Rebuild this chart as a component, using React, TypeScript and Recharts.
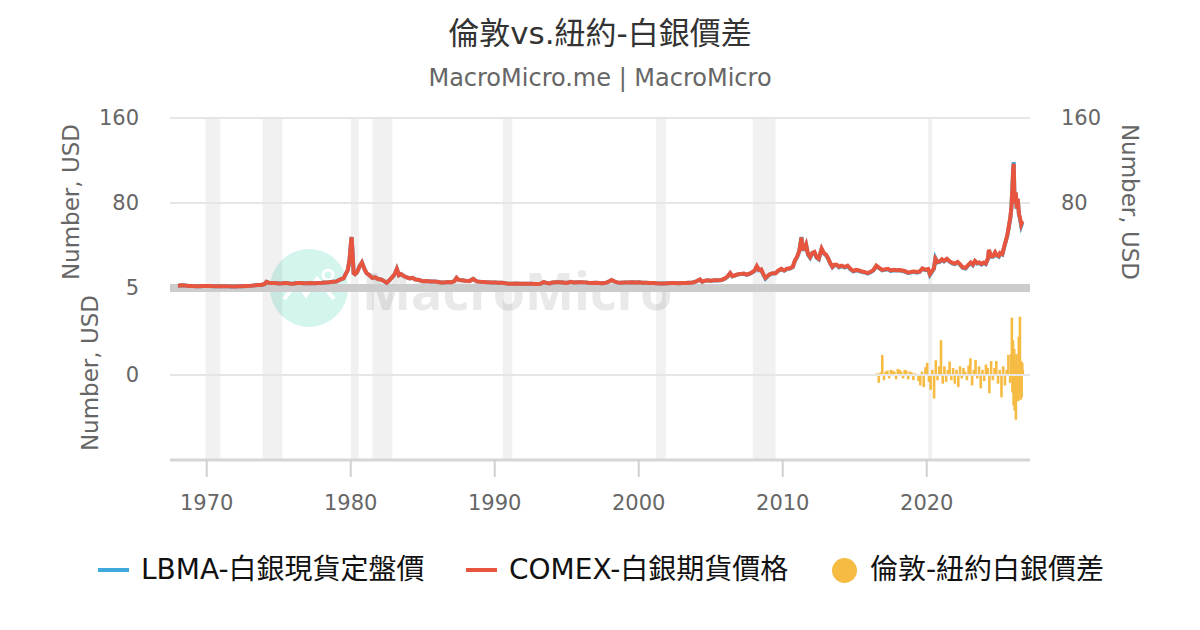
import React from 'react';
import {
  ComposedChart,
  Line,
  Bar,
  XAxis,
  YAxis,
  ReferenceLine,
  ReferenceArea,
} from 'recharts';

const FONT = '"DejaVu Sans", "Noto Sans CJK TC", sans-serif';

const TITLE = '倫敦vs.紐約-白銀價差';
const SUBTITLE = 'MacroMicro.me | MacroMicro';
const AXIS_TITLE = 'Number, USD';
const LBMA_NAME = 'LBMA-白銀現貨定盤價';
const COMEX_NAME = 'COMEX-白銀期貨價格';
const SPREAD_NAME = '倫敦-紐約白銀價差';

const LBMA_COLOR = '#3fa9dc';
const COMEX_COLOR = '#e8553e';
const SPREAD_COLOR = '#f6bb43';

const xTicks = [1970, 1980, 1990, 2000, 2010, 2020];
const priceTicks = [80, 160];
const spreadTicks = [0, 5];

// recession periods (start, end)
const recessionStarts = [1969.92, 1973.88, 1980.0, 1981.5, 1990.55, 2001.2, 2007.92, 2020.1];
const recessionEnds = [1970.95, 1975.25, 1980.55, 1982.9, 1991.22, 2001.88, 2009.5, 2020.38];

const priceDates = [
  1968.0, 1968.25, 1968.5, 1968.75, 1969.0, 1969.25, 1969.5, 1969.75, 1970.0, 1970.25,
  1970.5, 1970.75, 1971.0, 1971.25, 1971.5, 1971.75, 1972.0, 1972.25, 1972.5, 1972.75,
  1973.0, 1973.25, 1973.5, 1973.75, 1974.0, 1974.15, 1974.3, 1974.5, 1974.75, 1975.0,
  1975.25, 1975.5, 1975.75, 1976.0, 1976.25, 1976.5, 1976.75, 1977.0, 1977.25, 1977.5,
  1977.75, 1978.0, 1978.25, 1978.5, 1978.75, 1979.0, 1979.25, 1979.5, 1979.65, 1979.8,
  1979.92, 1980.0, 1980.06, 1980.12, 1980.2, 1980.3, 1980.45, 1980.6, 1980.78, 1980.95,
  1981.1, 1981.3, 1981.5, 1981.7, 1981.9, 1982.1, 1982.3, 1982.5, 1982.7, 1982.9,
  1983.05, 1983.2, 1983.35, 1983.5, 1983.7, 1983.9, 1984.1, 1984.3, 1984.5, 1984.75,
  1985.0, 1985.25, 1985.5, 1985.75, 1986.0, 1986.25, 1986.5, 1986.75, 1987.0, 1987.2,
  1987.35, 1987.5, 1987.75, 1988.0, 1988.25, 1988.5, 1988.75, 1989.0, 1989.25, 1989.5,
  1989.75, 1990.0, 1990.25, 1990.5, 1990.75, 1991.0, 1991.25, 1991.5, 1991.75, 1992.0,
  1992.25, 1992.5, 1992.75, 1993.0, 1993.2, 1993.4, 1993.6, 1993.8, 1994.0, 1994.25,
  1994.5, 1994.75, 1995.0, 1995.3, 1995.5, 1995.75, 1996.0, 1996.25, 1996.5, 1996.75,
  1997.0, 1997.25, 1997.5, 1997.75, 1998.0, 1998.1, 1998.3, 1998.5, 1998.75, 1999.0,
  1999.25, 1999.5, 1999.75, 2000.0, 2000.25, 2000.5, 2000.75, 2001.0, 2001.25, 2001.5,
  2001.75, 2002.0, 2002.25, 2002.5, 2002.75, 2003.0, 2003.25, 2003.5, 2003.75, 2004.0,
  2004.25, 2004.4, 2004.6, 2004.8, 2005.0, 2005.25, 2005.5, 2005.75, 2005.95, 2006.15,
  2006.35, 2006.5, 2006.7, 2006.9, 2007.1, 2007.3, 2007.5, 2007.7, 2007.9, 2008.05,
  2008.2, 2008.35, 2008.5, 2008.65, 2008.8, 2008.95, 2009.1, 2009.3, 2009.5, 2009.7,
  2009.9, 2010.1, 2010.3, 2010.5, 2010.7, 2010.85, 2011.0, 2011.15, 2011.3, 2011.38,
  2011.5, 2011.62, 2011.75, 2011.9, 2012.05, 2012.2, 2012.35, 2012.5, 2012.7, 2012.85,
  2013.0, 2013.15, 2013.3, 2013.45, 2013.6, 2013.75, 2013.9, 2014.1, 2014.3, 2014.5,
  2014.7, 2014.9, 2015.1, 2015.3, 2015.5, 2015.7, 2015.9, 2016.1, 2016.3, 2016.5,
  2016.7, 2016.9, 2017.1, 2017.3, 2017.5, 2017.7, 2017.9, 2018.1, 2018.3, 2018.5,
  2018.7, 2018.9, 2019.1, 2019.3, 2019.5, 2019.7, 2019.9, 2020.1, 2020.22, 2020.35,
  2020.5, 2020.6, 2020.75, 2020.9, 2021.05, 2021.2, 2021.4, 2021.6, 2021.8, 2021.95,
  2022.15, 2022.3, 2022.5, 2022.7, 2022.9, 2023.05, 2023.2, 2023.35, 2023.5, 2023.65,
  2023.8, 2023.95, 2024.1, 2024.25, 2024.32, 2024.45, 2024.6, 2024.75, 2024.85, 2025.0,
  2025.1, 2025.25, 2025.4, 2025.5, 2025.6, 2025.7, 2025.8, 2025.88, 2025.95, 2026.0,
  2026.04, 2026.08, 2026.12, 2026.18, 2026.25, 2026.32, 2026.4, 2026.48, 2026.56, 2026.64,
];

const comexPrices = [
  2.2, 2.5, 2.3, 1.95, 1.95, 1.75, 1.65, 1.85, 1.85, 1.8,
  1.7, 1.72, 1.62, 1.62, 1.55, 1.35, 1.42, 1.55, 1.7, 1.82,
  2.0, 2.3, 2.8, 2.9, 3.6, 5.8, 5.0, 4.6, 4.6, 4.3,
  4.4, 4.8, 4.2, 4.1, 4.7, 4.8, 4.4, 4.4, 4.8, 4.5,
  4.7, 4.9, 5.2, 5.4, 5.9, 6.1, 7.8, 9.0, 13, 17,
  27, 40, 48, 35, 14, 13, 15, 20, 24, 18,
  14, 12, 9.5, 10, 8.5, 8, 6.5, 5, 7.5, 10.5,
  13, 18, 12, 13, 11, 10, 9, 9.5, 8, 7.5,
  6.3, 6.5, 6.1, 6.2, 5.9, 5.2, 5.1, 5.6, 5.5, 6.5,
  9.5, 7.6, 7.3, 6.7, 6.5, 8.5, 6.2, 5.9, 5.7, 5.3,
  5.2, 5.2, 5.0, 4.9, 4.4, 3.9, 4.0, 4.3, 4.1, 4.1,
  3.95, 3.9, 3.8, 3.7, 4.1, 5.5, 4.8, 4.3, 5.1, 5.4,
  5.3, 5.2, 4.7, 5.8, 5.1, 5.3, 5.5, 5.3, 5.0, 4.8,
  5.0, 4.8, 4.4, 5.0, 6.5, 7.5, 6.2, 5.3, 5.0, 5.1,
  5.2, 5.3, 5.2, 5.3, 5.0, 5.0, 4.8, 4.6, 4.4, 4.3,
  4.2, 4.5, 4.6, 4.7, 4.5, 4.8, 4.6, 4.9, 5.2, 6.3,
  8.0, 6.0, 6.8, 7.3, 6.8, 7.3, 7.2, 7.6, 8.8, 10.5,
  14, 11.2, 12, 13, 13.3, 13.6, 12.6, 13.5, 15, 16.5,
  20.5, 17, 17.5, 13, 9.5, 11.3, 13, 14, 14, 16.5,
  18, 16.5, 18.2, 18.5, 20, 26, 29.5, 35, 47.5, 37,
  37, 41, 32, 29, 33, 34, 29, 27.5, 37, 33,
  31.5, 28, 23.5, 20, 22, 22, 20, 21, 19.8, 21,
  18, 16, 17, 16.5, 15.5, 15, 14, 15.2, 17, 21,
  19, 17, 17.5, 18, 16.5, 17.2, 16.8, 17, 16.5, 15.8,
  14.5, 15, 15.6, 15, 15.5, 18.5, 17.2, 17.8, 13, 15.5,
  18.5, 27.5, 24.5, 25, 27, 25.5, 27.5, 25, 23.5, 23,
  24.5, 22.5, 19.5, 19, 22, 24, 22, 25.5, 23.5, 24,
  22.5, 24, 23, 28, 36, 30, 30, 33.5, 31, 30,
  33, 32, 40, 45, 50, 58, 66, 76, 95, 112,
  117, 92, 80, 90, 75, 84, 70, 66, 60, 63,
];

const lbmaPrices = [
  2.2, 2.5, 2.3, 1.95, 1.95, 1.75, 1.65, 1.85, 1.85, 1.8,
  1.7, 1.72, 1.62, 1.62, 1.55, 1.35, 1.42, 1.55, 1.7, 1.82,
  2.0, 2.3, 2.8, 2.9, 3.6, 5.8, 5.0, 4.6, 4.6, 4.3,
  4.4, 4.8, 4.2, 4.1, 4.7, 4.8, 4.4, 4.4, 4.8, 4.5,
  4.7, 4.9, 5.2, 5.4, 5.9, 6.1, 7.8, 9.0, 13, 17,
  27, 40, 48, 35, 14, 13, 15, 20, 24, 18,
  14, 12, 9.5, 10, 8.5, 8, 6.5, 5, 7.5, 10.5,
  13, 18, 12, 13, 11, 10, 9, 9.5, 8, 7.5,
  6.3, 6.5, 6.1, 6.2, 5.9, 5.2, 5.1, 5.6, 5.5, 6.5,
  9.5, 7.6, 7.3, 6.7, 6.5, 8.5, 6.2, 5.9, 5.7, 5.3,
  5.2, 5.2, 5.0, 4.9, 4.4, 3.9, 4.0, 4.3, 4.1, 4.1,
  3.95, 3.9, 3.8, 3.7, 4.1, 5.5, 4.8, 4.3, 5.1, 5.4,
  5.3, 5.2, 4.7, 5.8, 5.1, 5.3, 5.5, 5.3, 5.0, 4.8,
  5.0, 4.8, 4.4, 5.0, 6.5, 7.5, 6.2, 5.3, 5.0, 5.1,
  5.2, 5.3, 5.2, 5.3, 5.0, 5.0, 4.8, 4.6, 4.4, 4.3,
  4.2, 4.5, 4.6, 4.7, 4.5, 4.8, 4.6, 4.9, 5.2, 6.3,
  7.8, 5.9, 6.7, 7.2, 6.7, 7.2, 7.1, 7.5, 8.6, 10.3,
  13.8, 11.0, 11.8, 12.8, 13.1, 13.4, 12.4, 13.3, 14.8, 16.2,
  20.2, 16.7, 17.2, 12.6, 8.8, 11.0, 12.7, 13.7, 13.8, 16.2,
  17.7, 16.2, 17.9, 18.2, 19.7, 25.7, 29.1, 34.6, 48.0, 36.5,
  36.6, 40.6, 31.4, 28.5, 32.6, 33.6, 28.5, 27.0, 36.6, 32.5,
  31.0, 27.6, 23.0, 19.5, 21.6, 21.5, 19.5, 20.6, 19.3, 20.5,
  17.5, 15.5, 16.6, 16.0, 15.0, 14.6, 13.6, 14.8, 16.6, 20.6,
  18.6, 16.6, 17.1, 17.6, 16.0, 16.8, 16.4, 16.6, 16.0, 15.3,
  14.0, 14.6, 15.2, 14.5, 15.1, 18.1, 16.8, 17.4, 12.2, 15.0,
  18.1, 28.2, 24.0, 24.5, 26.6, 25.0, 27.1, 24.5, 23.0, 22.5,
  24.0, 22.0, 19.0, 18.4, 21.5, 23.5, 21.5, 25.0, 23.0, 23.5,
  22.0, 23.5, 22.4, 27.6, 35.5, 29.5, 29.4, 33.0, 30.5, 29.4,
  32.5, 31.5, 39.5, 44.5, 49.4, 57.4, 65.4, 75.5, 94.6, 112.5,
  118.5, 91.5, 79.4, 89.5, 74.4, 83.5, 69.0, 65.0, 58.5, 61.5,
];

const spreadDates = [
  2016.55, 2016.67, 2016.79, 2016.91, 2017.03, 2017.15, 2017.27, 2017.39, 2017.51, 2017.63,
  2017.75, 2017.87, 2017.99, 2018.11, 2018.23, 2018.35, 2018.47, 2018.59, 2018.71, 2018.83,
  2018.95, 2019.07, 2019.19, 2019.31, 2019.43, 2019.55, 2019.67, 2019.79, 2019.91, 2020.03,
  2020.15, 2020.27, 2020.39, 2020.51, 2020.63, 2020.75, 2020.87, 2020.99, 2021.11, 2021.23,
  2021.35, 2021.47, 2021.59, 2021.71, 2021.83, 2021.95, 2022.07, 2022.19, 2022.31, 2022.43,
  2022.55, 2022.67, 2022.79, 2022.91, 2023.03, 2023.15, 2023.27, 2023.39, 2023.51, 2023.63,
  2023.75, 2023.87, 2023.99, 2024.11, 2024.23, 2024.35, 2024.47, 2024.59, 2024.71, 2024.83,
  2024.95, 2025.07, 2025.19, 2025.31, 2025.43, 2025.55, 2025.67, 2025.79,
  2025.87, 2025.91, 2025.95, 2025.99, 2026.03, 2026.07, 2026.11, 2026.15, 2026.19, 2026.23,
  2026.27, 2026.31, 2026.35, 2026.39, 2026.43, 2026.47, 2026.51, 2026.55, 2026.59, 2026.63,
  2026.67,
];

const spreadValues = [
  0.1, -0.45, 0.15, 1.15, -0.3, 0.2, 0.25, -0.2, 0.3, 0.25,
  0.2, -0.25, 0.35, 0.3, 0.2, -0.2, 0.3, 0.25, -0.25, 0.2,
  0.15, -0.3, 0.1, 0.05, -0.35, -0.6, 0.2, -0.7, 0.45, 0.7,
  -0.4, -0.85, 0.3, -1.35, 0.85, -0.3, 0.5, 2.0, -0.5, 0.5,
  -0.4, 0.3, 0.77, -0.3, 0.4, -0.5, 0.3, -0.7, 0.5, -0.2,
  0.4, 0.2, -0.3, 0.55, 0.96, -0.6, 0.3, 0.86, -0.2, 0.5,
  -0.77, 0.3, -0.35, 0.6, 0.4, -1.05, 0.8, -0.3, 0.4, 0.8,
  -0.5, 0.3, -1.28, 0.5, -0.6, 0.3, 1.16, -0.45,
  1.2, 3.3, -1.0, 2.0, -1.76, 1.5, -2.05, 0.8, -2.57, 1.2,
  -0.8, 0.6, -1.5, 2.2, -1.0, 3.35, -1.43, 0.8, -1.3, 0.7,
  0.3,
];

type Row = { date: number; comex?: number; lbma?: number; spread?: number };

function buildRows(): Row[] {
  const map = new Map<string, Row>();
  const get = (d: number) => {
    const k = d.toFixed(3);
    let r = map.get(k);
    if (!r) {
      r = { date: d };
      map.set(k, r);
    }
    return r;
  };
  priceDates.forEach((d, i) => {
    const r = get(d);
    r.comex = comexPrices[i];
    r.lbma = lbmaPrices[i];
  });
  spreadDates.forEach((d, i) => {
    const r = get(d);
    r.spread = spreadValues[i];
  });
  return Array.from(map.values()).sort((a, b) => a.date - b.date);
}

const rows = buildRows();

// plot geometry: top pane 160 -> 0 , bottom pane 5 -> 0 -> -5
const PRICE_DOMAIN: [number, number] = [-161.88, 160];
const SPREAD_DOMAIN: [number, number] = [-4.885, 14.77];
const X_DOMAIN: [number, number] = [1967.45, 2027.17];

const tickStyle = { fill: '#666666', fontSize: 21, fontFamily: FONT };

// Draws a narrow column centred on the bar slot the library computed
function SpreadBar(props: any) {
  const { x, y, width, height, fill } = props;
  if (x == null || y == null || !height) return null;
  const cx = x + (width || 0) / 2;
  const top = height < 0 ? y + height : y;
  return <rect x={cx - 1.3} y={top} width={2.6} height={Math.abs(height)} fill={fill} />;
}

function AxisTitle({ x, y, angle }: { x: number; y: number; angle: number }) {
  return (
    <div
      style={{
        position: 'absolute',
        left: x,
        top: y,
        transform: `translate(-50%, -50%) rotate(${angle}deg)`,
        whiteSpace: 'nowrap',
        fontSize: 23,
        color: '#666666',
        lineHeight: '1',
      }}
    >
      {AXIS_TITLE}
    </div>
  );
}

function LegendItem({ kind, color, label, left }: { kind: 'line' | 'dot'; color: string; label: string; left: number }) {
  return (
    <div style={{ position: 'absolute', left, top: 570, transform: 'translateY(-50%)', display: 'flex', alignItems: 'center' }}>
      {kind === 'line' ? (
        <div style={{ width: 31, height: 4, background: color, marginRight: 12 }} />
      ) : (
        <div style={{ width: 25, height: 25, borderRadius: '50%', background: color, marginRight: 13 }} />
      )}
      <span style={{ fontSize: 28, color: '#111', whiteSpace: 'nowrap', lineHeight: '1' }}>{label}</span>
    </div>
  );
}

export default function App() {
  return (
    <div
      style={{
        position: 'absolute',
        left: 0,
        top: 0,
        width: 1200,
        height: 630,
        background: '#ffffff',
        fontFamily: FONT,
        overflow: 'hidden',
      }}
    >
      {/* watermark */}
      <div
        style={{
          position: 'absolute',
          left: 270,
          top: 249,
          width: 78,
          height: 78,
          borderRadius: '50%',
          background: '#d3f5ee',
        }}
      >
        <svg width={78} height={78}>
          <polyline points="14,50 27,34 36,46 47,30 56,40 64,50" fill="none" stroke="#ffffff" strokeWidth={4} />
          <circle cx={58} cy={26} r={5} fill="none" stroke="#ffffff" strokeWidth={3} />
        </svg>
      </div>
      <div
        style={{
          position: 'absolute',
          left: 362,
          top: 290,
          transform: 'translateY(-50%)',
          fontSize: 52,
          fontWeight: 'bold',
          color: '#e9e9e9',
          fontFamily: '"Open Sans", "DejaVu Sans", sans-serif',
          lineHeight: '1',
          whiteSpace: 'nowrap',
        }}
      >
        MacroMicro
      </div>

      <div style={{ position: 'absolute', left: 0, top: 0 }}>
        <ComposedChart
          width={1200}
          height={630}
          data={rows}
          margin={{ top: 118, right: 169, bottom: 110, left: 168 }}
        >
          <XAxis
            dataKey="date"
            type="number"
            domain={X_DOMAIN}
            allowDataOverflow
            ticks={xTicks}
            height={60}
            tickSize={17}
            tickMargin={18}
            axisLine={{ stroke: '#d6d6d6', strokeWidth: 3 }}
            tickLine={{ stroke: '#d0d0d0', strokeWidth: 2 }}
            tick={tickStyle}
            interval={0}
          />
          <YAxis
            yAxisId="price"
            orientation="left"
            width={1}
            domain={PRICE_DOMAIN}
            allowDataOverflow
            ticks={priceTicks}
            axisLine={false}
            tickLine={false}
            tickSize={0}
            tickMargin={31}
            tick={tickStyle}
            interval={0}
          />
          <YAxis
            yAxisId="spread"
            orientation="left"
            width={1}
            domain={SPREAD_DOMAIN}
            allowDataOverflow
            ticks={spreadTicks}
            axisLine={false}
            tickLine={false}
            tickSize={0}
            tickMargin={30}
            tick={tickStyle}
            interval={0}
          />
          <YAxis
            yAxisId="priceRight"
            orientation="right"
            width={1}
            domain={PRICE_DOMAIN}
            allowDataOverflow
            ticks={priceTicks}
            axisLine={false}
            tickLine={false}
            tickSize={0}
            tickMargin={31}
            tick={tickStyle}
            interval={0}
          />

          {recessionStarts.map((s, i) => (
            <ReferenceArea
              key={`rec-${i}`}
              yAxisId="price"
              x1={s}
              x2={recessionEnds[i]}
              fill="#000000"
              fillOpacity={0.055}
              stroke="none"
              ifOverflow="extendDomain"
            />
          ))}

          {priceTicks.map((t) => (
            <ReferenceLine key={`pg-${t}`} yAxisId="price" y={t} stroke="#e6e6e6" strokeWidth={2} />
          ))}
          <ReferenceLine yAxisId="spread" y={0} stroke="#e6e6e6" strokeWidth={2} />
          <ReferenceLine yAxisId="price" y={0} stroke="#cccccc" strokeWidth={8} />

          <Bar
            yAxisId="spread"
            dataKey="spread"
            name={SPREAD_NAME}
            fill={SPREAD_COLOR}
            shape={SpreadBar}
            isAnimationActive={false}
          />
          <Line
            yAxisId="price"
            dataKey="lbma"
            name={LBMA_NAME}
            type="linear"
            stroke={LBMA_COLOR}
            strokeWidth={4}
            dot={false}
            activeDot={false}
            connectNulls
            isAnimationActive={false}
          />
          <Line
            yAxisId="price"
            dataKey="comex"
            name={COMEX_NAME}
            type="linear"
            stroke={COMEX_COLOR}
            strokeWidth={4}
            dot={false}
            activeDot={false}
            connectNulls
            isAnimationActive={false}
          />
        </ComposedChart>
      </div>

      {/* titles */}
      <div
        style={{
          position: 'absolute',
          left: 0,
          width: 1200,
          top: 33,
          transform: 'translateY(-50%)',
          textAlign: 'center',
          fontSize: 31,
          color: '#333333',
          lineHeight: '1',
        }}
      >
        {TITLE}
      </div>
      <div
        style={{
          position: 'absolute',
          left: 0,
          width: 1200,
          top: 78,
          transform: 'translateY(-50%)',
          textAlign: 'center',
          fontSize: 24,
          color: '#666666',
          lineHeight: '1',
        }}
      >
        {SUBTITLE}
      </div>

      <AxisTitle x={71} y={202} angle={-90} />
      <AxisTitle x={90} y={373} angle={-90} />
      <AxisTitle x={1129} y={202} angle={90} />

      <LegendItem kind="line" color={LBMA_COLOR} label={LBMA_NAME} left={98} />
      <LegendItem kind="line" color={COMEX_COLOR} label={COMEX_NAME} left={466} />
      <LegendItem kind="dot" color={SPREAD_COLOR} label={SPREAD_NAME} left={832} />
    </div>
  );
}
